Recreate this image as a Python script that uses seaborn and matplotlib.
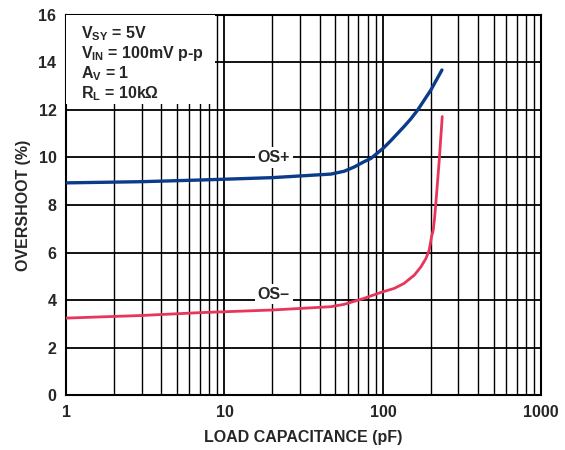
import numpy as np
import pandas as pd
import matplotlib
matplotlib.use("Agg")
import matplotlib.pyplot as plt
import seaborn as sns
from matplotlib.ticker import NullFormatter, LogLocator

# === Data ===
cap_pos = [1, 3, 7, 20, 47, 57, 66, 76, 84, 101, 112, 136, 150, 166, 201, 236]
os_pos = [8.93, 8.98, 9.05, 9.15, 9.3, 9.42, 9.6, 9.82, 9.96, 10.4, 10.7, 11.3, 11.62, 12.0, 12.84, 13.68]

cap_neg = [1, 3, 7, 20, 47, 57, 76, 97, 118, 136, 158, 174, 187, 196, 203, 208, 212, 216, 227, 237]
os_neg = [3.24, 3.35, 3.47, 3.58, 3.72, 3.82, 4.07, 4.32, 4.49, 4.7, 5.05, 5.4, 5.75, 6.1, 6.67, 6.95, 7.45, 8.07, 9.9, 11.72]

y_ticks = [0, 2, 4, 6, 8, 10, 12, 14, 16]
x_ticks = [1, 10, 100, 1000]

sns.set_style("white")
plt.rcParams["font.family"] = ["Liberation Sans", "DejaVu Sans"]
plt.rcParams["font.weight"] = "bold"
plt.rcParams["mathtext.fontset"] = "custom"
plt.rcParams["mathtext.rm"] = "Liberation Sans:bold"
plt.rcParams["mathtext.bf"] = "Liberation Sans:bold"

FS = 11.5

fig = plt.figure(figsize=(5.65, 4.5), dpi=100)
ax = fig.add_axes([0.117, 0.122, 0.841, 0.845])

df_pos = pd.DataFrame({"cap": cap_pos, "os": os_pos})
df_neg = pd.DataFrame({"cap": cap_neg, "os": os_neg})
sns.lineplot(data=df_pos, x="cap", y="os", color="#0a3c8a", linewidth=2.4, ax=ax, zorder=4)
sns.lineplot(data=df_neg, x="cap", y="os", color="#e8355c", linewidth=2.0, ax=ax, zorder=4)

ax.set_xscale("log")
ax.set_xlim(1, 1000)
ax.set_ylim(0, 16)
ax.set_yticks(y_ticks)
ax.set_yticklabels([str(t) for t in y_ticks])
ax.set_xticks(x_ticks)
ax.set_xticklabels([str(t) for t in x_ticks])
ax.xaxis.set_minor_locator(LogLocator(base=10, subs=np.arange(2, 10)))
ax.xaxis.set_minor_formatter(NullFormatter())
ax.tick_params(axis="both", which="both", length=0, labelsize=FS, pad=7)
for lab in ax.get_xticklabels() + ax.get_yticklabels():
    lab.set_fontweight("bold")

ax.grid(True, which="major", axis="both", color="black", linewidth=1.3, zorder=1)
ax.grid(True, which="minor", axis="x", color="black", linewidth=1.0, zorder=1)
ax.set_axisbelow(True)
for sp in ax.spines.values():
    sp.set_color("black")
    sp.set_linewidth(1.5)

ax.set_xlabel("LOAD CAPACITANCE (pF)", fontsize=FS, fontweight="bold", labelpad=7)
ax.set_ylabel("OVERSHOOT (%)", fontsize=FS, fontweight="bold", labelpad=5)

# curve labels
ax.text(20.5, 10.0, "OS+", fontsize=FS, fontweight="bold", ha="center", va="center",
        bbox=dict(facecolor="white", edgecolor="none", pad=2), zorder=5)
ax.text(20.5, 4.25, "OS\u2013", fontsize=FS, fontweight="bold", ha="center", va="center",
        bbox=dict(facecolor="white", edgecolor="none", pad=2), zorder=5)

# condition box
box = plt.Rectangle((1.0, 12.25), 7.7, 3.75, transform=ax.transData,
                    facecolor="white", edgecolor="none", zorder=3)
ax.add_patch(box)
cond = ["V$_{\\rm SY}$ = 5V", "V$_{\\rm IN}$ = 100mV p-p", "A$_{\\rm V}$ = 1", "R$_{\\rm L}$ = 10k\u03a9"]
for i, line in enumerate(cond):
    ax.text(1.25, 15.2 - i * 0.84, line, fontsize=FS, fontweight="bold",
            ha="left", va="center", zorder=5)

fig.savefig("out.png", dpi=100)
